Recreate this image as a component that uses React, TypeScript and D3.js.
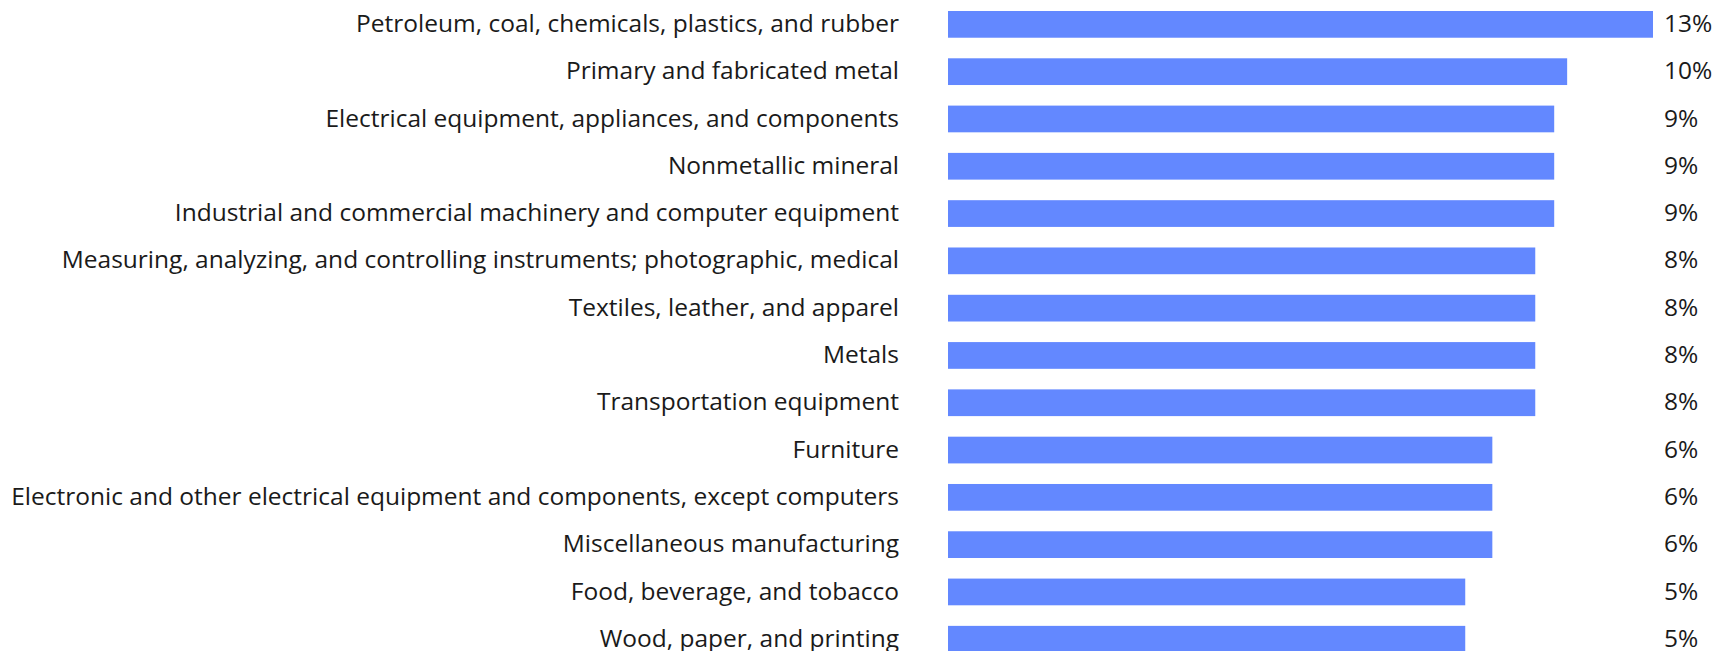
import React from "react";
import * as d3 from "d3";

const categories: string[] = [
  "Petroleum, coal, chemicals, plastics, and rubber",
  "Primary and fabricated metal",
  "Electrical equipment, appliances, and components",
  "Nonmetallic mineral",
  "Industrial and commercial machinery and computer equipment",
  "Measuring, analyzing, and controlling instruments; photographic, medical",
  "Textiles, leather, and apparel",
  "Metals",
  "Transportation equipment",
  "Furniture",
  "Electronic and other electrical equipment and components, except computers",
  "Miscellaneous manufacturing",
  "Food, beverage, and tobacco",
  "Wood, paper, and printing",
];

const values: number[] = [
  0.131, 0.0952, 0.0898, 0.0898, 0.0898, 0.0819, 0.0819, 0.0819, 0.0819, 0.064,
  0.064, 0.064, 0.0527, 0.0527,
];

const xDomain: [number, number] = [-0.163, 0.131];

const W = 1713;
const H = 651;
const BAR_LEFT = 948;
const BAR_RIGHT = 1653;
const LABEL_RIGHT = 899;
const VALUE_LEFT = 1664;

export default function App() {
  const x = d3.scaleLinear().domain(xDomain).range([BAR_LEFT, BAR_RIGHT]);
  const y = d3
    .scaleBand<string>()
    .domain(categories)
    .range([11, 652.6])
    .paddingInner(0.435)
    .paddingOuter(0);
  const fmt = d3.format(".0%");
  const font = "'Open Sans', 'Noto Sans', sans-serif";

  return (
    <svg
      width={W}
      height={H}
      style={{ position: "absolute", left: 0, top: 0, display: "block" }}
      fontFamily={font}
    >
      <rect width={W} height={H} fill="#fff" />
      {categories.map((c, i) => {
        const yy = y(c) as number;
        const bw = y.bandwidth();
        return (
          <g key={c}>
            <text
              x={LABEL_RIGHT}
              y={yy + bw / 2}
              dy="0.31em"
              textAnchor="end"
              fontSize={24.5}
              fill="#1a1a1a"
            >
              {c}
            </text>
            <rect
              x={x(xDomain[0])}
              y={yy}
              width={x(values[i]) - x(xDomain[0])}
              height={bw}
              fill="#6388ff"
            />
            <text
              x={VALUE_LEFT}
              y={yy + bw / 2}
              dy="0.31em"
              textAnchor="start"
              fontSize={24.5}
              fill="#1a1a1a"
            >
              {fmt(values[i])}
            </text>
          </g>
        );
      })}
    </svg>
  );
}
